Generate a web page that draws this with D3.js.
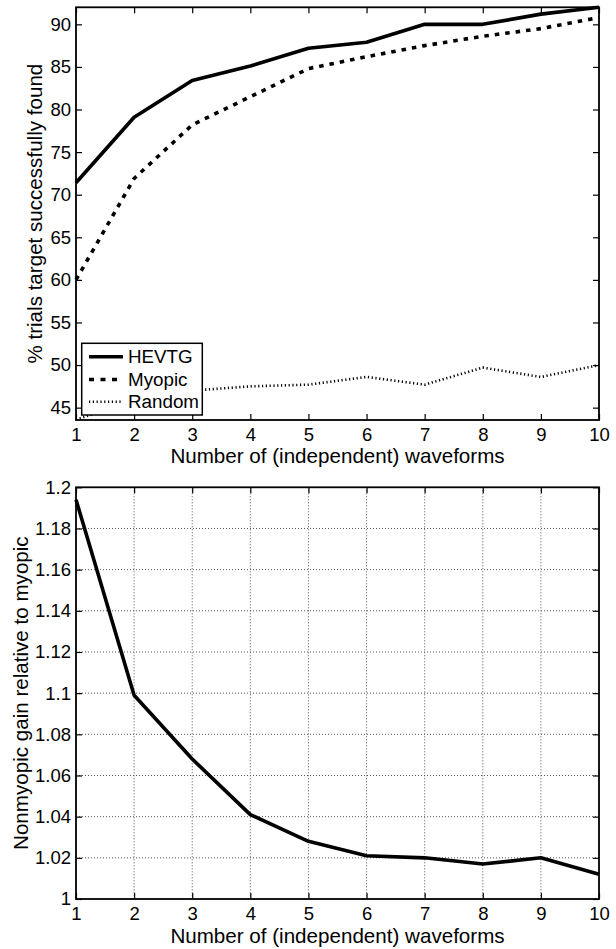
<!DOCTYPE html>
<html>
<head>
<meta charset="utf-8">
<script src="https://cdn.jsdelivr.net/npm/d3@7"></script>
<style>
  html, body { margin: 0; padding: 0; background: #fff; }
  svg { display: block; }
  text { font-family: "Liberation Sans", Arial, Helvetica, sans-serif; fill: #000; }
</style>
</head>
<body>
<svg id="chart" width="616" height="949"></svg>
<script>
// ---------- data ----------
const waveforms = [1, 2, 3, 4, 5, 6, 7, 8, 9, 10];
const hevtg  = [71.4, 79.1, 83.4, 85.1, 87.2, 87.9, 90.0, 90.0, 91.2, 92.0];
const myopic = [60.0, 71.9, 78.2, 81.5, 84.8, 86.2, 87.5, 88.6, 89.5, 90.8];
const random = [43.6, 45.8, 47.0, 47.5, 47.7, 48.6, 47.7, 49.7, 48.6, 50.0];
const gain   = [1.194, 1.099, 1.068, 1.041, 1.028, 1.021, 1.020, 1.017, 1.020, 1.012];

const seriesNames = ["HEVTG", "Myopic", "Random"];
const topYTicks = [45, 50, 55, 60, 65, 70, 75, 80, 85, 90];
const botYTicks = [1, 1.02, 1.04, 1.06, 1.08, 1.1, 1.12, 1.14, 1.16, 1.18, 1.2];
const xLabel = "Number of (independent) waveforms";
const topYLabel = "% trials target successfully found";
const botYLabel = "Nonmyopic gain relative to myopic";

// ---------- layout ----------
const svg = d3.select("#chart");
const L = 76, R = 599;
const top1 = { y0: 7.3, y1: 420 };
const top2 = { y0: 487.3, y1: 899 };
const tickLen = 6;

const styles = {
  HEVTG:  { width: 3.6, dash: null },
  Myopic: { width: 3.6, dash: "4.5,6" },
  Random: { width: 2.6, dash: "1.2,2.6" }
};

function drawFrame(g, x, y, xTicks, yTicks, yFmt, grid) {
  const [x0, x1] = x.range();
  const [ya, yb] = y.range();
  const yTop = Math.min(ya, yb), yBot = Math.max(ya, yb);
  if (grid) {
    g.append("g").selectAll("line").data(xTicks.filter(d => d !== x.domain()[0] && d !== x.domain()[1]))
      .join("line")
      .attr("x1", d => x(d)).attr("x2", d => x(d))
      .attr("y1", yTop).attr("y2", yBot)
      .attr("stroke", "#555").attr("stroke-width", 1).attr("stroke-dasharray", "1,2");
    g.append("g").selectAll("line").data(yTicks.filter(d => d !== y.domain()[0] && d !== y.domain()[1]))
      .join("line")
      .attr("x1", x0).attr("x2", x1)
      .attr("y1", d => y(d)).attr("y2", d => y(d))
      .attr("stroke", "#555").attr("stroke-width", 1).attr("stroke-dasharray", "1,2");
  }
  // bottom axis (ticks inward)
  const xb = d3.axisBottom(x).tickValues(xTicks).tickSize(-tickLen).tickPadding(7.5).tickFormat(d3.format("d"));
  const gx = g.append("g").attr("transform", `translate(0,${yBot})`).call(xb);
  gx.select(".domain").remove();
  gx.selectAll("text").attr("font-size", 18.5).attr("dy", "0.71em");
  const xt = d3.axisTop(x).tickValues(xTicks).tickSize(-tickLen).tickFormat("");
  const gxt = g.append("g").attr("transform", `translate(0,${yTop})`).call(xt);
  gxt.select(".domain").remove();
  const yl = d3.axisLeft(y).tickValues(yTicks).tickSize(-tickLen).tickPadding(5).tickFormat(yFmt);
  const gy = g.append("g").attr("transform", `translate(${x0},0)`).call(yl);
  gy.select(".domain").remove();
  gy.selectAll("text").attr("font-size", 18.5);
  const yr = d3.axisRight(y).tickValues(yTicks).tickSize(-tickLen).tickFormat("");
  const gyr = g.append("g").attr("transform", `translate(${x1},0)`).call(yr);
  gyr.select(".domain").remove();
  g.selectAll(".tick line").attr("stroke", "#000").attr("stroke-width", 1.2);
  g.selectAll(".tick text").attr("font-family", "'Liberation Sans', Arial, Helvetica, sans-serif").attr("fill", "#000");
}

function drawBox(g, x, y) {
  const [x0, x1] = x.range();
  const [ya, yb] = y.range();
  g.append("rect")
    .attr("x", x0).attr("y", Math.min(ya, yb))
    .attr("width", x1 - x0).attr("height", Math.abs(yb - ya))
    .attr("fill", "none").attr("stroke", "#000").attr("stroke-width", 1.8);
}

// ---------- top chart ----------
const x1s = d3.scaleLinear().domain([1, 10]).range([L, R]);
const y1s = d3.scaleLinear().domain([43.55, 92.0]).range([top1.y1, top1.y0]);
const g1 = svg.append("g");
drawFrame(g1, x1s, y1s, waveforms, topYTicks, d3.format("d"), false);

const seriesData = { HEVTG: hevtg, Myopic: myopic, Random: random };
const line1 = d3.line().x((d, i) => x1s(waveforms[i])).y(d => y1s(d));
seriesNames.slice().reverse().forEach(name => {
  const s = styles[name];
  g1.append("path")
    .datum(seriesData[name])
    .attr("d", line1)
    .attr("fill", "none").attr("stroke", "#000")
    .attr("stroke-width", s.width)
    .attr("stroke-dasharray", s.dash)
    .attr("stroke-linejoin", "round");
});

// legend
const lg = g1.append("g");
lg.append("rect").attr("x", 81.7).attr("y", 343.3).attr("width", 120.6).attr("height", 71.7)
  .attr("fill", "#fff").attr("stroke", "#000").attr("stroke-width", 1.5);
const rowY = [356.7, 379.5, 401.7];
seriesNames.forEach((name, i) => {
  const s = styles[name];
  lg.append("line").attr("x1", 89).attr("x2", 123).attr("y1", rowY[i]).attr("y2", rowY[i])
    .attr("stroke", "#000").attr("stroke-width", s.width).attr("stroke-dasharray", name === "Myopic" ? "5,6.5" : s.dash);
  lg.append("text").attr("x", 128).attr("y", rowY[i]).attr("dy", "0.36em")
    .attr("font-size", 18.8).text(name);
});
drawBox(g1, x1s, y1s);

g1.append("text").attr("x", (L + R) / 2).attr("y", 463).attr("text-anchor", "middle")
  .attr("font-size", 20.6).text(xLabel);
g1.append("text").attr("transform", `translate(42,${(top1.y0 + top1.y1) / 2}) rotate(-90)`)
  .attr("text-anchor", "middle").attr("font-size", 20.6).text(topYLabel);

// ---------- bottom chart ----------
const x2s = d3.scaleLinear().domain([1, 10]).range([L, R]);
const y2s = d3.scaleLinear().domain([1, 1.2]).range([top2.y1, top2.y0]);
const g2 = svg.append("g");
drawFrame(g2, x2s, y2s, waveforms, botYTicks, d => d3.format("")(+d.toFixed(2)), true);
const line2 = d3.line().x((d, i) => x2s(waveforms[i])).y(d => y2s(d));
g2.append("path").datum(gain).attr("d", line2)
  .attr("fill", "none").attr("stroke", "#000").attr("stroke-width", 3.6).attr("stroke-linejoin", "round");
drawBox(g2, x2s, y2s);

g2.append("text").attr("x", (L + R) / 2).attr("y", 943).attr("text-anchor", "middle")
  .attr("font-size", 20.6).text(xLabel);
g2.append("text").attr("transform", `translate(28,${(top2.y0 + top2.y1) / 2}) rotate(-90)`)
  .attr("text-anchor", "middle").attr("font-size", 20.6).text(botYLabel);
</script>
</body>
</html>
